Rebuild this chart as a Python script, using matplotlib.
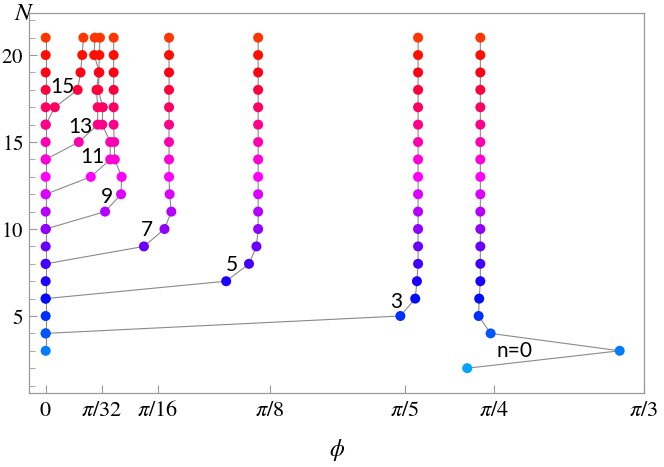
import numpy as np
import matplotlib
import matplotlib.pyplot as plt
from matplotlib.colors import hsv_to_rgb

plt.rcParams['mathtext.fontset'] = 'stix'

# phi values, one list per branch; N runs up to 21
spine_N = list(range(3, 22))
spine_phi = [0.0] * len(spine_N)

n0_N = list(range(2, 22))
n0_phi = [0.738, 1.005, 0.779, 0.758, 0.759] + [0.761] * 15

n3_N = list(range(4, 22))
n3_phi = [0.0, 0.621, 0.647, 0.650, 0.652] + [0.652] * 13

n5_N = list(range(6, 22))
n5_phi = [0.0, 0.316, 0.356, 0.369, 0.372] + [0.372] * 11

n7_N = list(range(8, 22))
n7_phi = [0.0, 0.172, 0.208, 0.220, 0.217, 0.216] + [0.216] * 8

n9_N = list(range(10, 22))
n9_phi = [0.0, 0.104, 0.132, 0.133, 0.121, 0.120, 0.119, 0.119, 0.119, 0.119, 0.119, 0.119]

n11_N = list(range(12, 22))
n11_phi = [0.0, 0.079, 0.113, 0.113, 0.099, 0.100, 0.092, 0.094, 0.085, 0.086]

n13_N = list(range(14, 22))
n13_phi = [0.0, 0.058, 0.091, 0.091, 0.089, 0.093, 0.094, 0.095]

n15_N = list(range(16, 22))
n15_phi = [0.0, 0.016, 0.056, 0.061, 0.064, 0.066]

branch_labels = ['15', '13', '11', '9', '7', '5', '3', 'n=0']
label_phi = [0.030, 0.060, 0.081, 0.107, 0.177, 0.326, 0.614, 0.820]
label_N = [18.16, 15.86, 14.14, 11.84, 9.94, 7.93, 5.80, 2.99]

tick_vals = [0, np.pi/32, np.pi/16, np.pi/8, np.pi/5, np.pi/4, np.pi/3]
tick_text = ['$0$', r'$\pi/32$', r'$\pi/16$', r'$\pi/8$', r'$\pi/5$', r'$\pi/4$', r'$\pi/3$']


def n_color(N):
    N = np.asarray(N, dtype=float)
    h = (0.56 + 0.025 * (N - 2)) % 1.0
    hsv = np.stack([h, np.ones_like(h), np.ones_like(h)], axis=-1)
    return hsv_to_rgb(hsv)


fig = plt.figure(figsize=(6.64, 4.67), dpi=100)
ax = fig.add_axes([0.0441, 0.1585, 0.9255, 0.813])

series = [(spine_phi, spine_N), (n0_phi, n0_N), (n3_phi, n3_N), (n5_phi, n5_N),
          (n7_phi, n7_N), (n9_phi, n9_N), (n11_phi, n11_N), (n13_phi, n13_N),
          (n15_phi, n15_N)]

for phi, N in series:
    ax.plot(phi, N, color='#8a8a8a', lw=0.8, zorder=1)
for phi, N in series:
    ax.scatter(phi, N, s=52, c=n_color(N), edgecolors='none', zorder=2)

for t, x, y in zip(branch_labels, label_phi, label_N):
    ax.text(x, y, t, fontsize=15, family='Lato', ha='center', va='center', zorder=3)

ax.set_xlim(-0.0287, 1.046)
ax.set_ylim(0.575, 22.40)
ax.set_xticks(tick_vals)
ax.set_xticklabels(tick_text)
ax.set_yticks([5, 10, 15, 20])
ax.set_yticks(range(1, 23), minor=True)
ax.set_yticklabels(['$5$', '$10$', '$15$', '$20$'])

for s in ax.spines.values():
    s.set_color('#999999')
    s.set_linewidth(0.9)
ax.tick_params(axis='both', which='both', direction='in', color='#999999',
               labelsize=16, top=False, right=False)
ax.tick_params(axis='x', which='major', length=6, pad=5)
ax.tick_params(axis='y', which='major', length=6, pad=4, labelsize=15)
ax.tick_params(axis='y', which='minor', length=4)

ax.set_xlabel(r'$\phi$', fontsize=17, labelpad=12)
fig.text(0.036, 0.972, r'$N$', fontsize=18, ha='center', va='center')

fig.savefig('out.png', dpi=100)
